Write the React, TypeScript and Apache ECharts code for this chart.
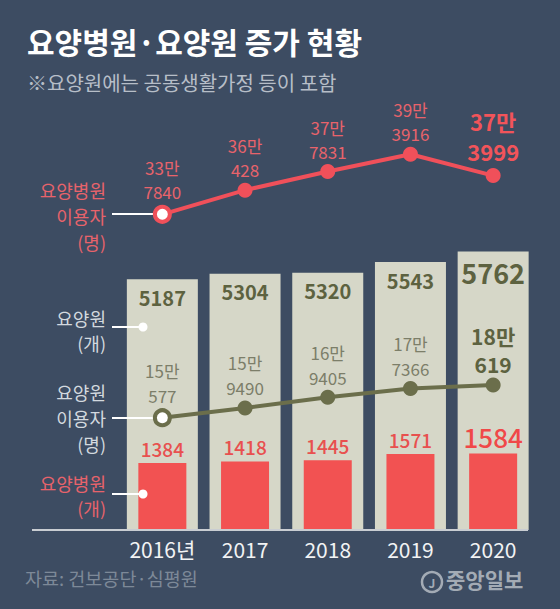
import React, { useEffect, useRef } from "react";
import * as echarts from "echarts";

const years = ["2016년", "2017", "2018", "2019", "2020"];
const nursingHomes = [5187, 5304, 5320, 5543, 5762]; // 요양원 (개)
const hospitals = [1384, 1418, 1445, 1571, 1584]; // 요양병원 (개)
const hospitalUsers = [337840, 360428, 377831, 393916, 373999]; // 요양병원 이용자 (명)
const homeUsers = [150577, 159490, 169405, 177366, 180619]; // 요양원 이용자 (명)

const FONT = "'Noto Sans CJK KR', 'Noto Sans', sans-serif";
const BG = "#3d4c62";
const RED = "#f0505a";
const RED_TEXT = "#e8636b";
const OLIVE = "#6b6e4b";
const BEIGE = "#d6d7c8";
const PALE = "#d3d9df";

// "33만 7840" style split into two lines
const manSplit = (v: number) => `${Math.floor(v / 10000)}만\n${v % 10000}`;

export default function App() {
  const ref = useRef<HTMLDivElement>(null);

  useEffect(() => {
    if (!ref.current) return;
    const chart = echarts.init(ref.current, undefined, { renderer: "svg" });
    const last = years.length - 1;

    const leftText = (text: string, y: number, color: string, lh = 26) => ({
      type: "text",
      x: 106,
      y,
      z: 10,
      style: {
        text,
        fill: color,
        font: `18px ${FONT}`,
        align: "right",
        verticalAlign: "top",
        lineHeight: lh,
      },
    });
    const connector = (y: number, x2: number) => ({
      type: "line",
      z: 3,
      shape: { x1: 112, y1: y, x2, y2: y },
      style: { stroke: "#ffffff", lineWidth: 2 },
    });
    const dot = (x: number, y: number) => ({
      type: "circle",
      z: 4,
      shape: { cx: x, cy: y, r: 4.5 },
      style: { fill: "#ffffff" },
    });

    chart.setOption({
      animation: false,
      backgroundColor: BG,
      grid: { left: 121, right: 25.5, top: 95, bottom: 79 },
      xAxis: [
        {
          type: "category",
          data: years,
          axisLine: { show: false },
          axisTick: { show: false },
          axisLabel: {
            interval: 0,
            color: "#f2f3f4",
            fontSize: 21,
            fontFamily: FONT,
            margin: 8,
          },
        },
        {
          type: "category",
          data: years,
          show: false,
        },
      ],
      yAxis: [
        { type: "value", min: 0, max: 9000, show: false },
        { type: "value", min: 42790, max: 449340, show: false },
        { type: "value", min: 47370, max: 447140, show: false },
      ],
      series: [
        {
          type: "bar",
          xAxisIndex: 0,
          yAxisIndex: 0,
          barWidth: 71,
          z: 1,
          itemStyle: { color: BEIGE },
          data: nursingHomes.map((v, i) => ({
            value: v,
            label: i === last ? { fontSize: 27, distance: 7 } : undefined,
          })),
          label: {
            show: true,
            position: "insideTop",
            distance: 8,
            color: "#5d6240",
            fontWeight: "bold",
            fontSize: 20,
            fontFamily: FONT,
          },
        },
        {
          type: "bar",
          xAxisIndex: 1,
          yAxisIndex: 0,
          barWidth: 48,
          z: 2,
          itemStyle: { color: "#f25252" },
          data: hospitals.map((v, i) => ({
            value: v,
            label: i === last ? { fontSize: 26, distance: 4, color: "#f04848" } : undefined,
          })),
          label: {
            show: true,
            position: "top",
            distance: 5,
            color: "#e8504f",
            fontWeight: 500,
            fontSize: 19,
            fontFamily: FONT,
          },
        },
        {
          type: "line",
          xAxisIndex: 0,
          yAxisIndex: 1,
          z: 5,
          symbol: "circle",
          symbolSize: 15,
          lineStyle: { color: RED, width: 4 },
          itemStyle: { color: RED },
          data: hospitalUsers.map((v, i) => ({
            value: v,
            itemStyle: i === 0 ? { color: "#ffffff", borderColor: RED, borderWidth: 4 } : undefined,
            label:
              i === last
                ? { fontSize: 22, lineHeight: 30, fontWeight: "bold", color: "#f2545a", distance: 2 }
                : undefined,
          })),
          label: {
            show: true,
            position: "top",
            distance: 1,
            color: RED_TEXT,
            fontSize: 17,
            lineHeight: 24,
            fontFamily: FONT,
            formatter: (p: any) => manSplit(p.value),
          },
        },
        {
          type: "line",
          xAxisIndex: 0,
          yAxisIndex: 2,
          z: 5,
          symbol: "circle",
          symbolSize: 15,
          lineStyle: { color: OLIVE, width: 4 },
          itemStyle: { color: OLIVE },
          data: homeUsers.map((v, i) => ({
            value: v,
            itemStyle: i === 0 ? { color: "#ffffff", borderColor: OLIVE, borderWidth: 4 } : undefined,
            label:
              i === last
                ? { fontSize: 21, lineHeight: 28, fontWeight: "bold", color: "#5d6240", distance: 0 }
                : undefined,
          })),
          label: {
            show: true,
            position: "top",
            distance: 0,
            color: "#7c7e69",
            fontSize: 17,
            lineHeight: 25,
            fontFamily: FONT,
            formatter: (p: any) => manSplit(p.value),
          },
        },
      ],
      graphic: [
        {
          type: "text",
          left: 27,
          top: 26,
          style: {
            text: "요양병원·요양원 증가 현황",
            fill: "#ffffff",
            font: `bold 30px ${FONT}`,
          },
        },
        {
          type: "text",
          left: 27,
          top: 72,
          style: {
            text: "※요양원에는 공동생활가정 등이 포함",
            fill: "#b7bec8",
            font: `20px ${FONT}`,
          },
        },
        // baseline
        {
          type: "line",
          z: 3,
          shape: { x1: 32, y1: 530, x2: 528, y2: 530 },
          style: { stroke: "#c9cdd2", lineWidth: 2 },
        },
        leftText("요양병원\n이용자\n(명)", 177, RED_TEXT),
        connector(214, 156),
        leftText("요양원\n(개)", 305, PALE, 25),
        connector(327, 143),
        dot(143, 327),
        leftText("요양원\n이용자\n(명)", 379, PALE),
        connector(418, 156),
        leftText("요양병원\n(개)", 470, RED_TEXT, 25),
        connector(494, 143),
        dot(143, 494),
        {
          type: "text",
          left: 25,
          top: 569,
          style: { text: "자료: 건보공단·심평원", fill: "#7d8998", font: `18.5px ${FONT}` },
        },
        {
          type: "circle",
          shape: { cx: 432, cy: 582, r: 10 },
          style: { fill: "none", stroke: "#a3abb5", lineWidth: 2.5 },
        },
        {
          type: "text",
          x: 432,
          y: 582,
          style: {
            text: "J",
            fill: "#a3abb5",
            font: `bold 12px ${FONT}`,
            align: "center",
            verticalAlign: "middle",
          },
        },
        {
          type: "text",
          left: 446,
          top: 568,
          style: { text: "중앙일보", fill: "#a3abb5", font: `bold 21px ${FONT}` },
        },
      ],
    });

    return () => chart.dispose();
  }, []);

  return (
    <div
      ref={ref}
      style={{ position: "fixed", left: 0, top: 0, width: 560, height: 609 }}
    />
  );
}
